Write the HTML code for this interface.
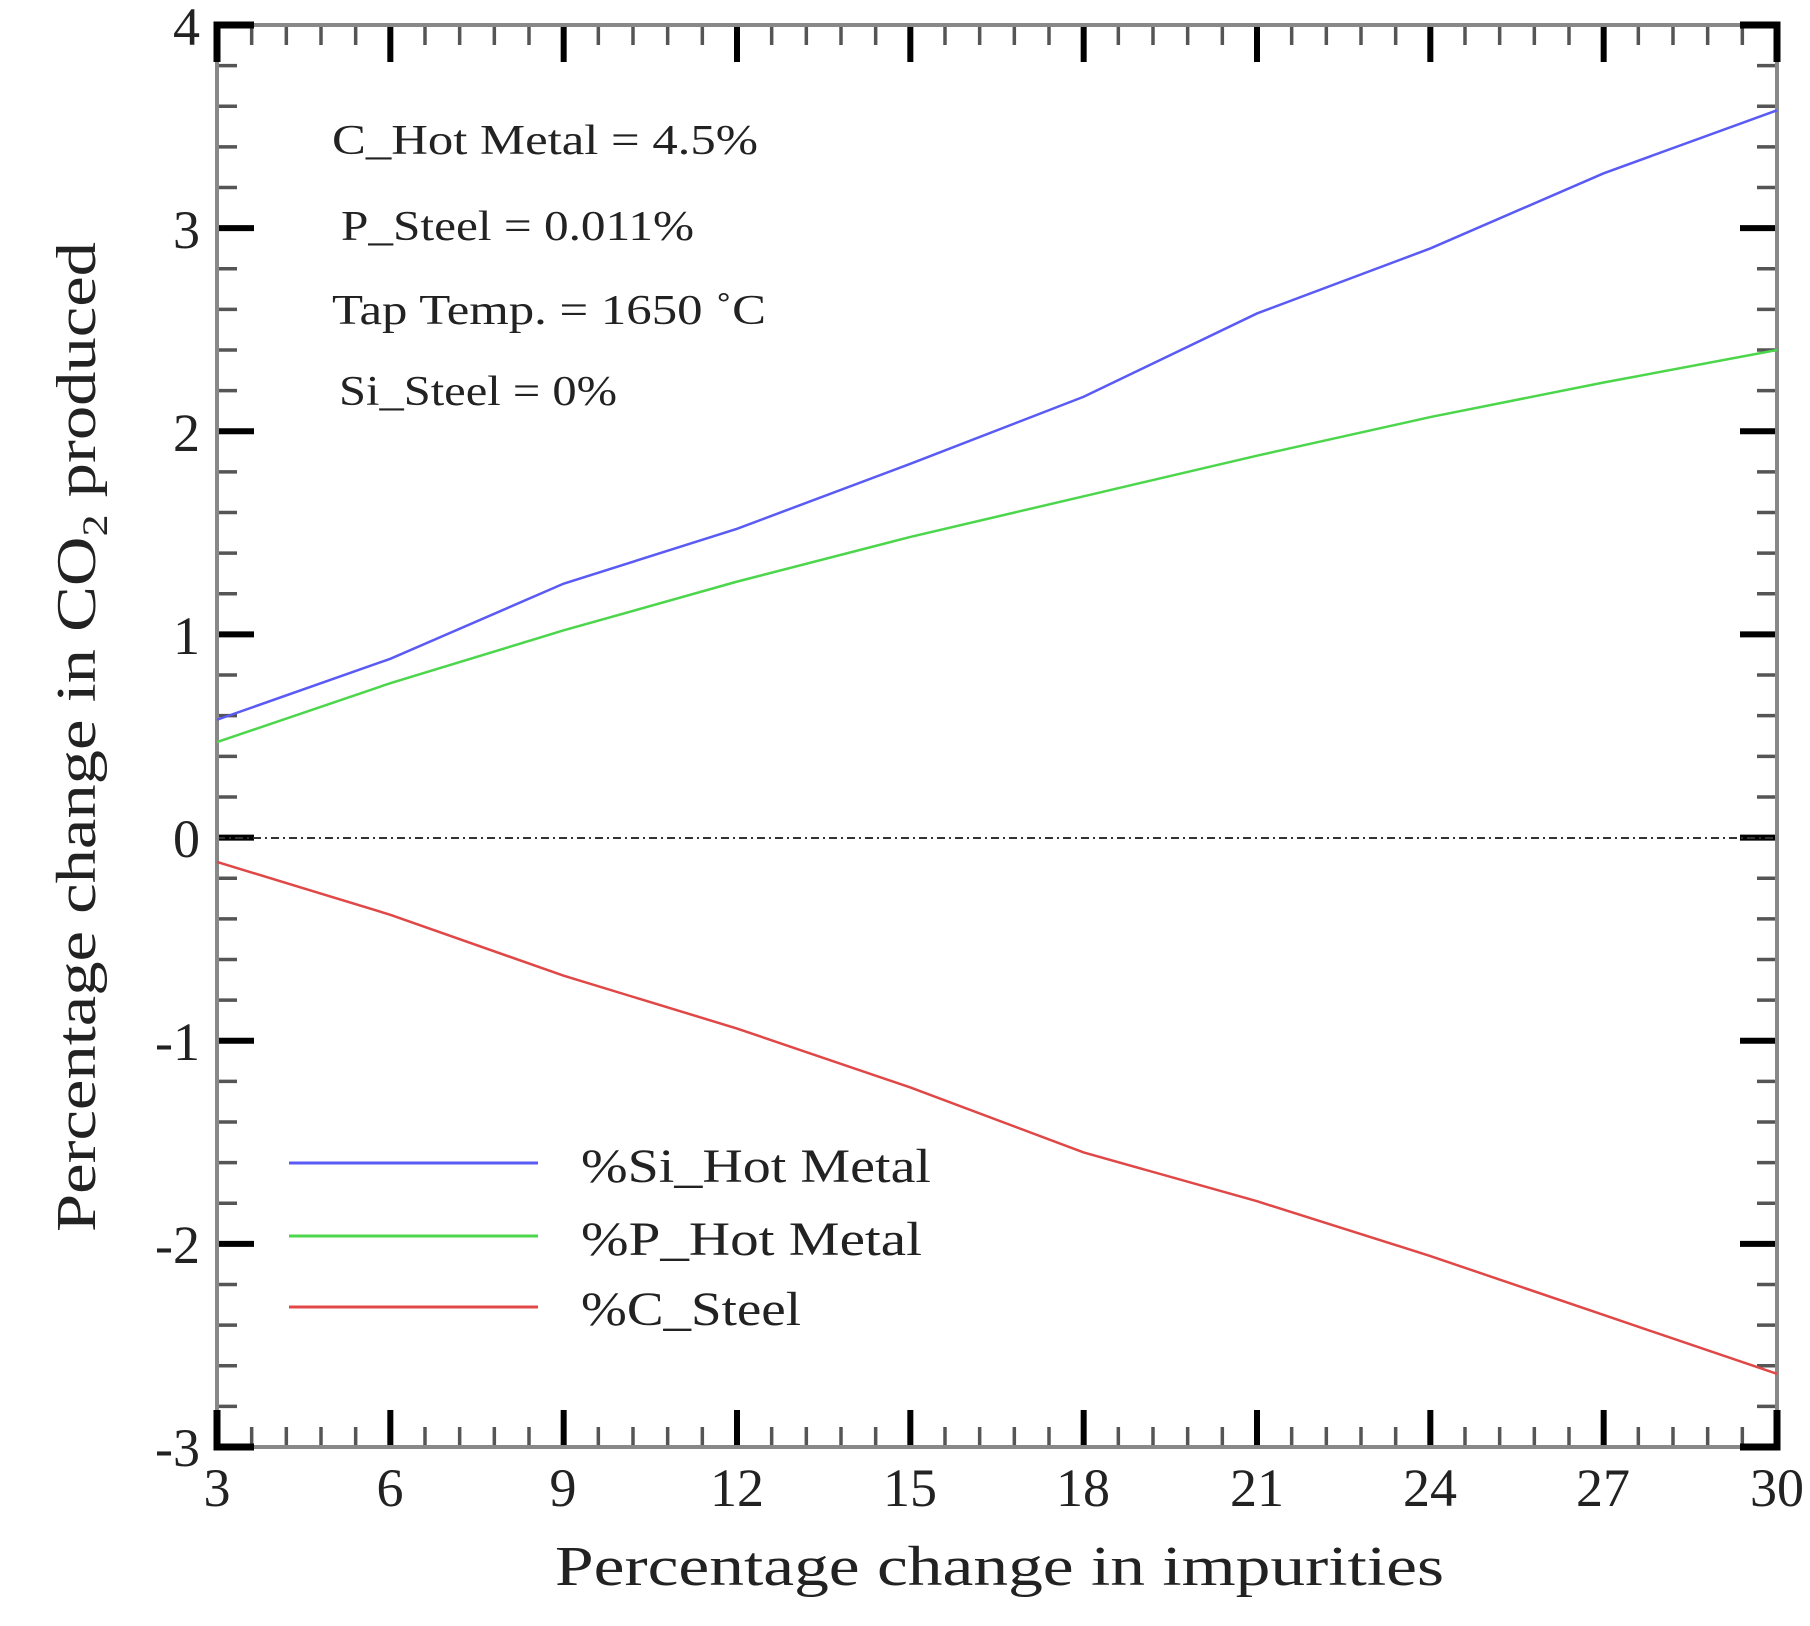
<!DOCTYPE html>
<html><head><meta charset="utf-8"><style>
html,body{margin:0;padding:0;background:#fff;}
svg{display:block;}
text{font-family:"Liberation Serif",serif;fill:#222;}
</style></head><body>
<svg id="s" width="1810" height="1626" viewBox="0 0 1810 1626" xmlns="http://www.w3.org/2000/svg">
<g id="ticks"></g>
<line x1="217" y1="838" x2="1777" y2="838" stroke="#333" stroke-width="2" stroke-dasharray="8,4,2,4"/>
<rect x="217" y="25" width="1560" height="1422" fill="none" stroke="#888" stroke-width="4"/>
<path d="M217,62 V25 H254 M1740,25 H1777 V62 M217,1410 V1447 H254 M1740,1447 H1777 V1410" fill="none" stroke="#000" stroke-width="7"/>
<g id="series" fill="none" stroke-width="2.5"></g>
<g font-size="54" text-anchor="end">
<text x="200" y="45">4</text>
<text x="200" y="248">3</text>
<text x="200" y="451">2</text>
<text x="200" y="654">1</text>
<text x="200" y="857">0</text>
<text x="200" y="1060">-1</text>
<text x="200" y="1263">-2</text>
<text x="200" y="1466">-3</text>
</g>
<g font-size="54" text-anchor="middle">
<text x="217" y="1506">3</text>
<text x="390" y="1506">6</text>
<text x="563" y="1506">9</text>
<text x="737" y="1506">12</text>
<text x="910" y="1506">15</text>
<text x="1083" y="1506">18</text>
<text x="1257" y="1506">21</text>
<text x="1430" y="1506">24</text>
<text x="1603" y="1506">27</text>
<text x="1777" y="1506">30</text>
</g>
<text x="555" y="1585" font-size="56" textLength="889" lengthAdjust="spacingAndGlyphs">Percentage change in impurities</text>
<text transform="translate(95,1232) rotate(-90)" font-size="56" textLength="990" lengthAdjust="spacingAndGlyphs">Percentage change in CO<tspan font-size="36" dy="12">2</tspan><tspan dy="-12"> produced</tspan></text>
<g font-size="42">
<text x="332" y="154" textLength="426" lengthAdjust="spacingAndGlyphs">C_Hot Metal = 4.5%</text>
<text x="341" y="240" textLength="353" lengthAdjust="spacingAndGlyphs">P_Steel = 0.011%</text>
<text x="332" y="324" textLength="434" lengthAdjust="spacingAndGlyphs">Tap Temp. = 1650 ˚C</text>
<text x="339" y="405" textLength="278" lengthAdjust="spacingAndGlyphs">Si_Steel = 0%</text>
</g>
<line x1="289" y1="1163" x2="538" y2="1163" stroke="#5a5af5" stroke-width="3"/>
<line x1="289" y1="1236" x2="538" y2="1236" stroke="#4cd64c" stroke-width="3"/>
<line x1="289" y1="1307" x2="538" y2="1307" stroke="#e04848" stroke-width="3"/>
<g font-size="48">
<text x="581" y="1182" textLength="350" lengthAdjust="spacingAndGlyphs">%Si_Hot Metal</text>
<text x="581" y="1255" textLength="341" lengthAdjust="spacingAndGlyphs">%P_Hot Metal</text>
<text x="581" y="1325" textLength="220" lengthAdjust="spacingAndGlyphs">%C_Steel</text>
</g>
</svg>
<script>
var NS="http://www.w3.org/2000/svg";
function X(v){return 217+(v-3)*1560/27;}
function Y(v){return 25+(4-v)*1422/7;}
function ln(g,x1,y1,x2,y2,c,w){var l=document.createElementNS(NS,"line");l.setAttribute("x1",x1);l.setAttribute("y1",y1);l.setAttribute("x2",x2);l.setAttribute("y2",y2);l.setAttribute("stroke",c);l.setAttribute("stroke-width",w);g.appendChild(l);}
var t=document.getElementById("ticks");
for(var i=0;i<=45;i++){var v=3+i*0.6;var x=X(v);var maj=i%5==0;var L=maj?37:20;var c=maj?"#000":"#555";var w=maj?6:3.5;
ln(t,x,1447,x,1447-L,c,w);ln(t,x,25,x,25+L,c,w);}
for(var i=0;i<=35;i++){var v=4-i*0.2;var y=Y(v);var maj=i%5==0;var L=maj?37:20;var c=maj?"#000":"#555";var w=maj?6:3.5;
ln(t,217,y,217+L,y,c,w);ln(t,1777,y,1777-L,y,c,w);}
var xs=[3,6,9,12,15,18,21,24,27,30];
var d={"#5a5af5":[0.58,0.88,1.25,1.52,1.84,2.17,2.58,2.9,3.27,3.58],"#4cd64c":[0.47,0.76,1.02,1.26,1.48,1.68,1.88,2.07,2.24,2.4],"#e04848":[-0.12,-0.38,-0.68,-0.94,-1.23,-1.55,-1.79,-2.06,-2.35,-2.64]};
var g=document.getElementById("series");
for(var c in d){var p=document.createElementNS(NS,"polyline");p.setAttribute("points",xs.map(function(x,i){return X(x)+","+Y(d[c][i]);}).join(" "));p.setAttribute("stroke",c);g.appendChild(p);}
</script>
</body></html>
